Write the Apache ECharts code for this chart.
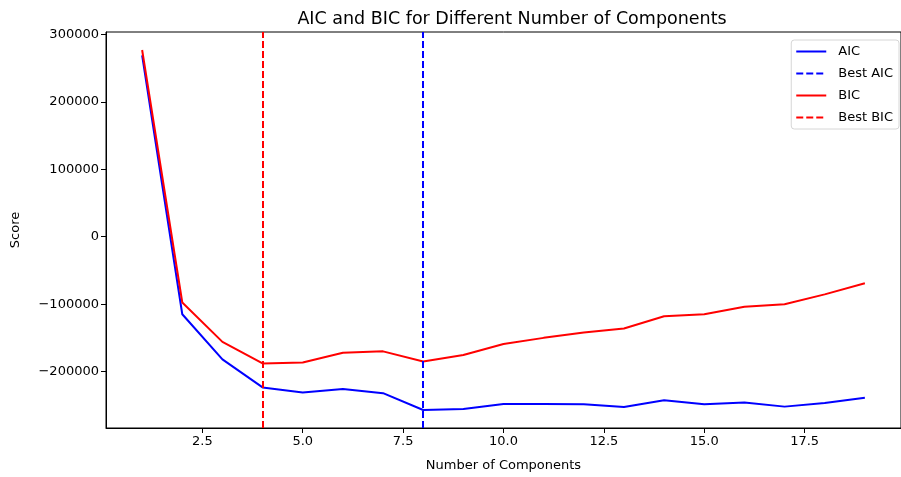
<!DOCTYPE html>
<html>
<head>
<meta charset="utf-8">
<script src="https://cdn.jsdelivr.net/npm/echarts@6/dist/echarts.min.js"></script>
<style>
html,body{margin:0;padding:0;background:#fff;}
#chart{width:901px;height:477px;}
</style>
</head>
<body>
<div id="chart"></div>
<script>
const components = [1,2,3,4,5,6,7,8,9,10,11,12,13,14,15,16,17,18,19];
const aicValues = [269000,-115000,-182000,-223500,-231000,-226000,-232000,-257000,-255500,-248000,-248000,-248500,-252500,-242500,-248500,-246000,-252000,-246500,-239000];
const bicValues = [277000,-97500,-156000,-188000,-186500,-172000,-170000,-185000,-175500,-159000,-150000,-142000,-136000,-118000,-115000,-104000,-100000,-85500,-69000];
const xTicks = [2.5,5.0,7.5,10.0,12.5,15.0,17.5];
const yTicks = [-200000,-100000,0,100000,200000,300000];

function argminX(vals){ let k=0; vals.forEach((v,i)=>{ if(v<vals[k]) k=i; }); return components[k]; }
const bestAic = argminX(aicValues);
const bestBic = argminX(bicValues);

const FONT = 'DejaVu Sans';
const chart = echarts.init(document.getElementById('chart'), null, {renderer:'canvas'});
chart.setOption({
  animation:false,
  backgroundColor:'#ffffff',
  textStyle:{fontFamily:FONT},
  title:{
    text:'AIC and BIC for Different Number of Components',
    left:507, top:5, textAlign:'center',
    textStyle:{fontFamily:FONT,fontSize:17.5,fontWeight:'normal',color:'#000'}
  },
  grid:{left:106,right:-6,top:32,bottom:47,show:true,borderColor:'#000',borderWidth:1,backgroundColor:'transparent'},
  legend:{
    orient:'vertical', right:2, top:40,
    itemWidth:30, itemHeight:10, itemGap:9,
    padding:[5,6,5,4],
    borderColor:'#d6d6d6', borderWidth:1, borderRadius:3,
    backgroundColor:'rgba(255,255,255,0.8)',
    itemStyle:{opacity:0},
    textStyle:{fontFamily:FONT,fontSize:13,color:'#000',padding:[0,0,0,7]},
    data:['AIC','Best AIC','BIC','Best BIC']
  },
  xAxis:{
    type:'value', min:0.1, max:19.9,
    name:'Number of Components', nameLocation:'middle', nameGap:31,
    nameTextStyle:{fontFamily:FONT,fontSize:13,color:'#000'},
    axisLine:{show:true,onZero:false,lineStyle:{color:'#000',width:1}},
    axisTick:{show:true,length:5,lineStyle:{color:'#000'},customValues:xTicks},
    axisLabel:{fontFamily:FONT,fontSize:13,color:'#000',margin:7,customValues:xTicks,formatter:v=>v.toFixed(1)},
    splitLine:{show:false}
  },
  yAxis:{
    type:'value', min:-283700, max:303700,
    name:'Score', nameLocation:'middle', nameGap:84, nameRotate:90,
    nameTextStyle:{fontFamily:FONT,fontSize:13,color:'#000'},
    axisLine:{show:true,onZero:false,lineStyle:{color:'#000',width:1}},
    axisTick:{show:true,length:5,lineStyle:{color:'#000'},customValues:yTicks},
    axisLabel:{fontFamily:FONT,fontSize:13,color:'#000',margin:7,customValues:yTicks,formatter:v=>String(v).replace('-','\u2212')},
    splitLine:{show:false}
  },
  series:[
    {name:'AIC',type:'line',symbol:'none',data:components.map((c,i)=>[c,aicValues[i]]),
     lineStyle:{color:'#0000ff',width:2},itemStyle:{color:'#0000ff'},z:3},
    {name:'Best AIC',type:'line',symbol:'none',data:[],
     lineStyle:{color:'#0000ff',width:2,type:[7,3]},itemStyle:{color:'#0000ff'},
     markLine:{symbol:'none',silent:true,label:{show:false},
       lineStyle:{color:'#0000ff',width:2,type:[7,3]},data:[{xAxis:bestAic}]}},
    {name:'BIC',type:'line',symbol:'none',data:components.map((c,i)=>[c,bicValues[i]]),
     lineStyle:{color:'#ff0000',width:2},itemStyle:{color:'#ff0000'},z:4},
    {name:'Best BIC',type:'line',symbol:'none',data:[],
     lineStyle:{color:'#ff0000',width:2,type:[7,3]},itemStyle:{color:'#ff0000'},
     markLine:{symbol:'none',silent:true,label:{show:false},
       lineStyle:{color:'#ff0000',width:2,type:[7,3]},data:[{xAxis:bestBic}]}}
  ]
});
</script>
</body>
</html>
